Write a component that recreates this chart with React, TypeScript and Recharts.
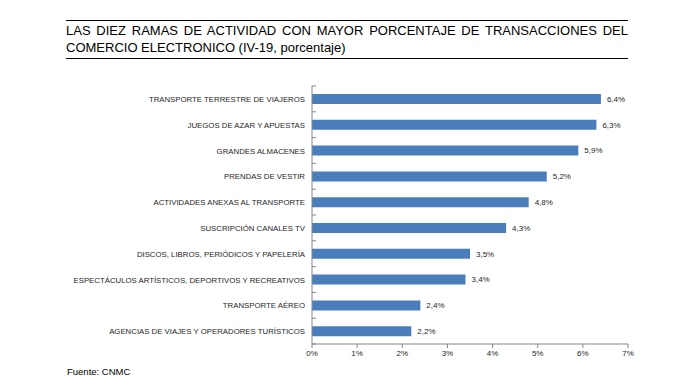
import React from 'react';
import { BarChart, Bar, XAxis, YAxis, LabelList } from 'recharts';

const categories = [
  'TRANSPORTE TERRESTRE DE VIAJEROS',
  'JUEGOS DE AZAR Y APUESTAS',
  'GRANDES ALMACENES',
  'PRENDAS DE VESTIR',
  'ACTIVIDADES ANEXAS AL TRANSPORTE',
  'SUSCRIPCIÓN CANALES TV',
  'DISCOS, LIBROS, PERIÓDICOS Y PAPELERÍA',
  'ESPECTÁCULOS ARTÍSTICOS, DEPORTIVOS Y RECREATIVOS',
  'TRANSPORTE AÉREO',
  'AGENCIAS DE VIAJES Y OPERADORES TURÍSTICOS',
];
const values = [6.4, 6.3, 5.9, 5.2, 4.8, 4.3, 3.5, 3.4, 2.4, 2.2];
const xTicks = [0, 1, 2, 3, 4, 5, 6, 7];

const data = categories.map((c, i) => ({ name: c, value: values[i] }));

const FONT = '"Liberation Sans", Arial, sans-serif';
const AXIS = '#868686';

const YTick = (props: any) => {
  const { x, y, payload, index } = props;
  const band = 25.8;
  return (
    <g>
      <text x={x} y={y} dy={3} textAnchor="end" fontSize={7.8} fill="#262626" fontFamily={FONT}>
        {payload.value}
      </text>
      <line x1={x + 7} x2={x + 11} y1={y - band / 2} y2={y - band / 2} stroke={AXIS} />
      {index === categories.length - 1 && (
        <line x1={x + 7} x2={x + 11} y1={y + band / 2} y2={y + band / 2} stroke={AXIS} />
      )}
    </g>
  );
};

export default function App() {
  return (
    <div style={{ position: 'absolute', left: 0, top: 0, width: 687, height: 388, background: '#fff' }}>
      <div
        style={{
          position: 'absolute',
          left: 66,
          top: 20,
          width: 562,
          height: 36,
          borderTop: '1px solid #000',
          borderBottom: '1px solid #000',
          fontFamily: FONT,
          fontSize: 13,
          lineHeight: '17px',
          color: '#000',
          paddingTop: 1,
          boxSizing: 'content-box',
        }}
      >
        <div style={{ textAlign: 'justify', textAlignLast: 'justify' as any }}>
          LAS DIEZ RAMAS DE ACTIVIDAD CON MAYOR PORCENTAJE DE TRANSACCIONES DEL
        </div>
        <div>COMERCIO ELECTRONICO (IV-19, porcentaje)</div>
      </div>
      <div style={{ position: 'absolute', top: 0, left: 0 }}>
        <BarChart
          layout="vertical"
          width={687}
          height={388}
          data={data}
          margin={{ top: 86, bottom: 14, left: 0, right: 59 }}
        >
          <XAxis
            type="number"
            domain={[0, 7]}
            ticks={xTicks}
            height={30}
            tickFormatter={(v: number) => `${v}%`}
            axisLine={{ stroke: AXIS }}
            tickLine={{ stroke: AXIS }}
            tickSize={4}
            tick={{ fontSize: 8, fill: '#262626', fontFamily: FONT }}
            interval={0}
          />
          <YAxis
            type="category"
            dataKey="name"
            width={312}
            axisLine={{ stroke: AXIS }}
            tickLine={false}
            tickSize={0}
            tickMargin={7}
            tick={<YTick />}
            interval={0}
          />
          <Bar dataKey="value" fill="#4A7EBB" isAnimationActive={false} barSize={10}>
            <LabelList
              dataKey="value"
              position="right"
              offset={6}
              formatter={(v: any) => `${Number(v).toFixed(1).replace('.', ',')}%`}
              style={{ fontSize: 8, fill: '#262626', fontFamily: FONT }}
            />
          </Bar>
        </BarChart>
      </div>
      <div style={{ position: 'absolute', left: 67, top: 366, fontFamily: FONT, fontSize: 9.5, color: '#000' }}>
        Fuente: CNMC
      </div>
    </div>
  );
}
